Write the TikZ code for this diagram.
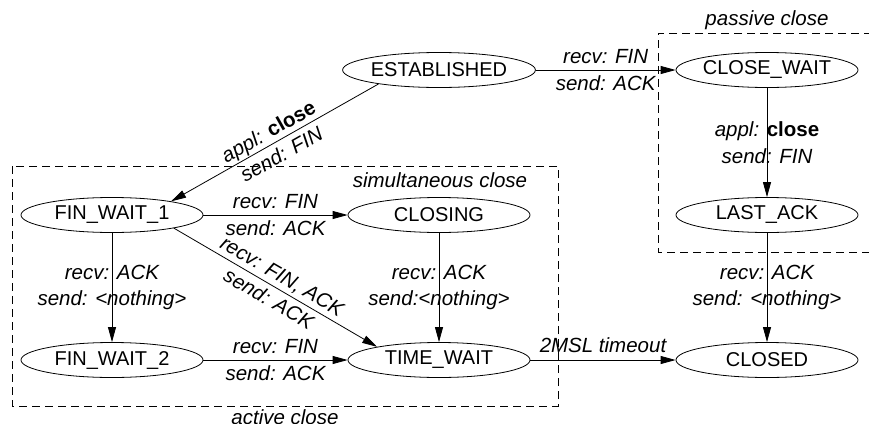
\documentclass[tikz,border=0pt]{standalone}
\usepackage{fontspec}
\setmainfont{Liberation Sans}
\usetikzlibrary{arrows.meta,shapes.geometric}
\begin{document}
\begin{tikzpicture}[x=1pt,y=-1pt,
  state/.style={ellipse,draw,line width=0.8pt,minimum width=182pt,minimum height=35pt,
    inner sep=0pt,font=\fontsize{20}{24}\selectfont},
  trans/.style={draw,line width=0.8pt,-{Triangle[length=15pt,width=8pt]}},
  transrev/.style={draw,line width=0.8pt,{Triangle[length=15pt,width=8pt]}-},
  lbl/.style={font=\fontsize{20.5}{26.5}\selectfont\itshape,inner sep=0pt,align=center},
  region/.style={draw,line width=0.8pt,dash pattern=on 8pt off 5pt},
  regionlbl/.style={font=\fontsize{20.5}{24}\selectfont\itshape,anchor=base,inner sep=0pt},
]
\useasboundingbox (0,0) rectangle (869,423);

% regions
\draw[region] (12,166) rectangle (558,406);
\draw[region] (872,33) -- (658,33) -- (658,252) -- (872,252);
\node[regionlbl] (passlbl) at (767,25) {passive close};
\node[regionlbl] (simlbl) at (440,187) {simultaneous close};
\node[regionlbl] (actlbl) at (285,424) {active close};

% states
\node[state] (est) at (439,70) {ESTABLISHED};
\node[state] (cw)  at (767,70) {CLOSE\_WAIT};
\node[state] (la)  at (767,215) {LAST\_ACK};
\node[state] (fw1) at (112,215) {FIN\_WAIT\_1};
\node[state] (cl)  at (439,215) {CLOSING};
\node[state] (fw2) at (112,360) {FIN\_WAIT\_2};
\node[state] (tw)  at (439,360) {TIME\_WAIT};
\node[state] (cd)  at (767,360) {CLOSED};

% transitions
\path[trans] (est) -- node[lbl] {recv: FIN\\send: ACK} (cw);
\path[transrev] (fw1.13) -- node[lbl,sloped] {appl: \textbf{\upshape close}\\send: FIN} (est.193);
\path[trans] (cw) -- node[lbl] {appl: \textbf{\upshape close}\\send: FIN} (la);
\path[trans] (fw1) -- node[lbl] {recv: FIN\\send: ACK} (cl);
\path[trans] (fw1.348) -- node[lbl,sloped] {recv: FIN, ACK\\send: ACK} (tw.168);
\path[trans] (fw1) -- node[lbl] {recv: ACK\\send: {<}nothing{>}} (fw2);
\path[trans] (cl) -- node[lbl] {recv: ACK\\send:{<}nothing{>}} (tw);
\path[trans] (fw2) -- node[lbl] {recv: FIN\\send: ACK} (tw);
\path[trans] (tw) -- node[lbl,anchor=base,yshift=8pt] {2MSL timeout} (cd);
\path[trans] (la) -- node[lbl] {recv: ACK\\send: {<}nothing{>}} (cd);
\end{tikzpicture}
\end{document}
